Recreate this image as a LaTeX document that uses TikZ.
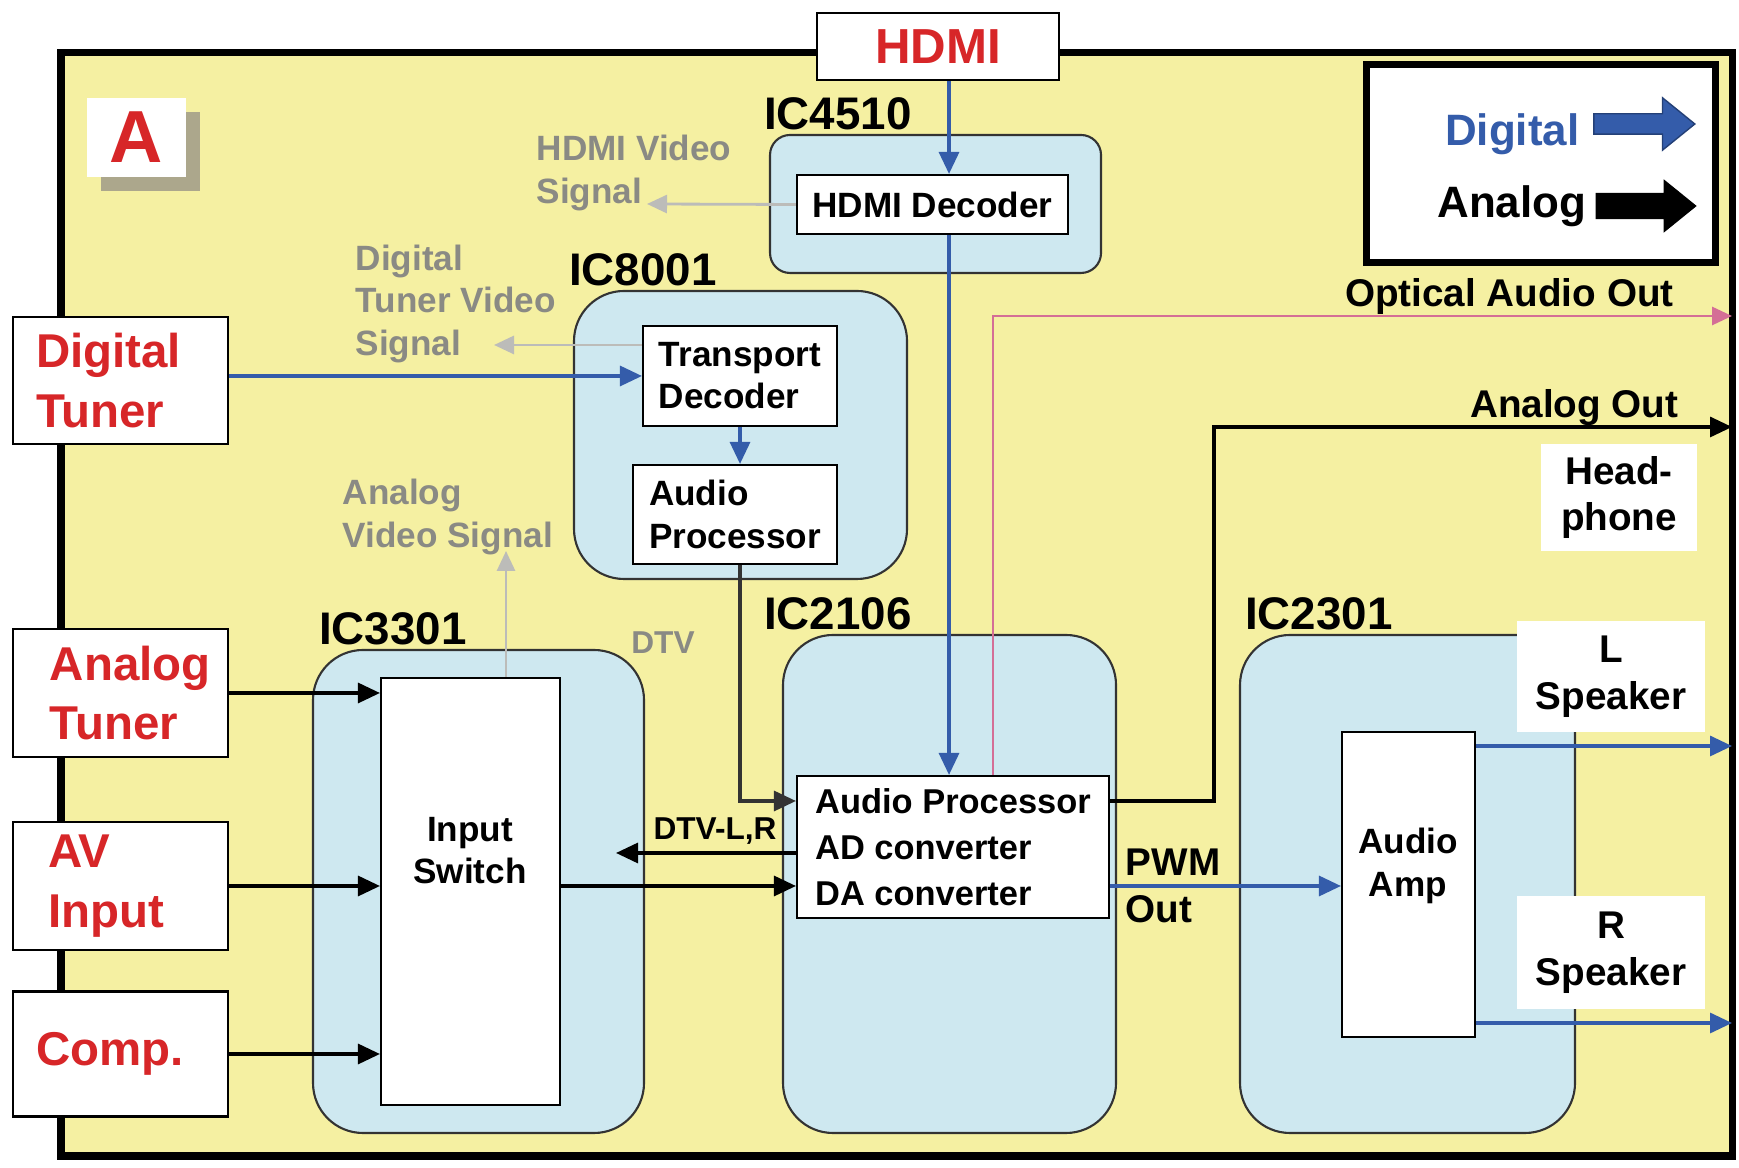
\documentclass[tikz,border=0pt]{standalone}
\usepackage{fontspec}
\setmainfont{Liberation Sans}
\usetikzlibrary{arrows.meta,positioning,shapes.arrows,shadows}
\definecolor{boardcolor}{RGB}{245,240,162}
\definecolor{iccolor}{RGB}{206,232,240}
\definecolor{redtxt}{RGB}{215,38,40}
\definecolor{digcolor}{RGB}{52,92,170}
\definecolor{vidcolor}{RGB}{138,138,132}
\definecolor{vidline}{RGB}{188,188,185}
\definecolor{optcolor}{RGB}{212,110,150}
\definecolor{shadowcolor}{RGB}{172,167,140}
\tikzset{
  icbox/.style={draw=black!80, line width=0.6pt, fill=iccolor, rounded corners=0.5cm},
  blk/.style={draw=black, line width=0.6pt, fill=white, inner sep=0pt},
  inbox/.style={draw=black, line width=0.7pt, fill=white, text=redtxt, align=left,
    minimum width=2.15cm, text width=1.69cm, inner xsep=0pt,
    font=\bfseries\fontsize{13.5}{17}\selectfont},
  iclab/.style={inner sep=1pt, font=\bfseries\fontsize{13}{15}\selectfont},
  txt/.style={font=\bfseries\fontsize{10}{12}\selectfont, align=left},
  vidtxt/.style={txt, text=vidcolor, inner sep=0pt},
  outlab/.style={text=black, font=\bfseries\fontsize{11}{13}\selectfont, inner sep=0pt},
  spk/.style={fill=white, align=center, font=\bfseries\fontsize{11}{13.3}\selectfont},
  keytxt/.style={inner sep=0pt, font=\bfseries\fontsize{12.5}{14}\selectfont},
  dsig/.style={-{Triangle[length=2.2mm,width=2mm]}, line width=0.9pt, digcolor},
  asig/.style={-{Triangle[length=2.2mm,width=2mm]}, line width=0.9pt, black},
  vsig/.style={-{Triangle[length=2mm,width=1.8mm]}, line width=0.8pt, vidline},
  osig/.style={-{Triangle[length=2mm,width=1.8mm]}, line width=0.8pt, optcolor},
}

\begin{document}
\begin{tikzpicture}
    \useasboundingbox (0,0) rectangle (17.39,11.67);
    \node[draw=black, line width=2pt, fill=boardcolor, outer sep=0pt, inner sep=0pt,
      minimum width=16.71cm, minimum height=11.03cm] (board) at (8.965,5.625) {};
    \node[fill=white, minimum width=0.99cm, minimum height=0.79cm, text=redtxt,
      drop shadow={shadow xshift=0.14cm, shadow yshift=-0.14cm, fill=shadowcolor, opacity=1},
      font=\bfseries\fontsize{21}{21}\selectfont] (a) at (1.365,10.295) {A};
    \node[draw=black, line width=0.7pt, fill=white, minimum width=2.42cm,
      minimum height=0.67cm, text=redtxt, font=\bfseries\fontsize{14}{14}\selectfont]
      (hdmi) at (9.38,11.205) {HDMI};

    \node[icbox, rounded corners=0.2cm, minimum width=3.31cm, minimum height=1.38cm]
      (ic4510) at (9.355,9.63) {};
    \node[iclab, above right=0cm and -0.09cm of ic4510.north west] (l4510) {IC4510};
    \node[blk, txt, minimum width=2.71cm, minimum height=0.59cm] (dec) at (9.325,9.625)
      {HDMI Decoder};
    \node[vidtxt, anchor=west] (hvtxt) at (5.36,9.94) {HDMI Video\\Signal};
    \coordinate (hvs) at (6.47,9.63);
    \draw[vsig] (dec.west) -- (hvs);

    \node[icbox, minimum width=3.33cm, minimum height=2.88cm] (ic8001) at (7.405,7.32) {};
    \node[iclab, above right=0cm and -0.08cm of ic8001.north west] (l8001) {IC8001};
    \node[blk, txt, minimum width=1.94cm, minimum height=1.00cm] (td) at (7.40,7.91)
      {Transport\\Decoder};
    \node[blk, txt, minimum width=2.04cm, minimum height=0.99cm] (ap1) at (7.35,6.525)
      {Audio\\Processor};
    \draw[dsig] (td.south) -- (td.south |- ap1.north);

    \node[inbox, minimum height=1.27cm] (dt) at (1.205,7.865) {Digital\\Tuner};
    \draw[dsig] (dt.east |- td.west) -- (td.west);
    \node[vidtxt, anchor=west] (dtvtxt) at (3.55,8.63) {Digital\\Tuner Video\\Signal};
    \coordinate (dtvs) at (4.94,8.22);
    \draw[vsig] (td.west |- dtvs) -- (dtvs);

    \node[icbox, minimum width=3.31cm, minimum height=4.83cm] (ic3301) at (4.785,2.755) {};
    \node[iclab, above right=0cm and 0.03cm of ic3301.north west] (l3301) {IC3301};
    \node[blk, minimum width=1.79cm, minimum height=4.27cm] (isw) at (4.705,2.755) {};
    \node[txt, align=center] (iswt) at (4.70,3.16) {Input\\Switch};
    \node[vidtxt, anchor=west] (avtxt) at (3.42,6.50) {Analog\\Video Signal};
    \coordinate (avs) at (5.06,6.16);
    \draw[vsig] (isw.north -| avs) -- (avs);

    \node[inbox, minimum height=1.28cm, text width=1.41cm] (atu) at (1.205,4.74)
      {Analog\\Tuner};
    \node[inbox, minimum height=1.28cm, text width=1.45cm] (av) at (1.205,2.81)
      {AV\\Input};
    \node[inbox, minimum height=1.25cm] (comp) at (1.205,1.13) {Comp.};
    \draw[asig] (atu.east) -- (atu.east -| isw.west);
    \draw[asig] (av.east) -- (av.east -| isw.west);
    \draw[asig] (comp.east) -- (comp.east -| isw.west);
    \node[vidtxt, font=\bfseries\fontsize{9}{11}\selectfont] (dtv) at (6.63,5.24) {DTV};

    \node[icbox, minimum width=3.33cm, minimum height=4.98cm] (ic2106) at (9.495,2.83) {};
    \node[iclab, above right=0cm and -0.22cm of ic2106.north west] (l2106) {IC2106};
    \node[blk, txt, minimum width=3.12cm, minimum height=1.42cm,
      font=\bfseries\fontsize{9.8}{13.1}\selectfont] (ap2) at (9.53,3.20)
      {Audio Processor\\AD converter\\DA converter};
    \coordinate (hx) at (9.49,0);
    \draw[dsig] (hdmi.south -| hx) -- (dec.north -| hx);
    \draw[dsig] (dec.south -| hx) -- (ap2.north -| hx);
    \draw[asig, black!80] (ap1.south -| td.south) |- ([yshift=0.46cm]ap2.west);
    \coordinate (dtvl) at (6.16,3.14);
    \draw[asig] (ap2.west |- dtvl) -- (dtvl);
    \node[txt, font=\bfseries\fontsize{9}{11}\selectfont] (ldtv) at (7.15,3.36) {DTV-L,R};
    \draw[asig] (isw.east |- av.east) -- (ap2.west |- av.east);

    \coordinate (opt) at (9.93,8.51);
    \draw[osig] (ap2.north -| opt) |- (board.east |- opt)
      node[outlab, anchor=south east, pos=1, xshift=-0.57cm] (lopt) {Optical Audio Out};
    \coordinate (aout) at (12.14,7.40);
    \draw[asig] ([yshift=0.46cm]ap2.east) -| (aout) -- (board.east |- aout)
      node[outlab, anchor=south east, pos=1, xshift=-0.52cm] (laout) {Analog Out};
    \node[spk, minimum width=1.56cm, minimum height=1.07cm] (hp) at (16.19,6.695)
      {Head-\\phone};

    \node[icbox, minimum width=3.35cm, minimum height=4.98cm] (ic2301) at (14.075,2.83) {};
    \node[iclab, above right=0cm and 0.02cm of ic2301.north west] (l2301) {IC2301};
    \node[blk, minimum width=1.33cm, minimum height=3.05cm] (amp) at (14.085,2.825) {};
    \node[txt, align=center] (ampt) at (14.08,3.01) {Audio\\Amp};
    \draw[dsig] (ap2.east |- av.east) -- (amp.west |- av.east);
    \node[outlab, anchor=west, align=left, font=\bfseries\fontsize{11}{13.4}\selectfont]
      (pwm) at (11.25,2.81) {PWM\\Out};
    \node[spk, minimum width=1.88cm, minimum height=1.11cm] (ls) at (16.11,4.905)
      {L\\Speaker};
    \node[spk, minimum width=1.88cm, minimum height=1.13cm] (rs) at (16.11,2.145)
      {R\\Speaker};
    \coordinate (lo) at (0,4.21);
    \coordinate (ro) at (0,1.44);
    \draw[dsig] (amp.east |- lo) -- (board.east |- lo);
    \draw[dsig] (amp.east |- ro) -- (board.east |- ro);

    \node[draw=black, line width=2pt, fill=white, minimum width=3.49cm,
      minimum height=1.98cm] (key) at (15.405,10.03) {};
    \node[single arrow, fill=digcolor, draw=digcolor!70!black, line width=0.4pt,
      inner xsep=0pt, inner ysep=0.095cm, minimum height=1.01cm,
      single arrow head extend=0.16cm, single arrow tip angle=78] (kdig) at (16.38,10.43) {};
    \node[single arrow, fill=black, inner xsep=0pt, inner ysep=0.125cm,
      minimum height=1.01cm, single arrow head extend=0.135cm,
      single arrow tip angle=78] (kana) at (16.38,9.61) {};
    \node[keytxt, text=digcolor, left=0.13cm of kdig, yshift=-0.1cm] (tdig) {Digital};
    \node[keytxt, left=0.08cm of kana] (tana) {Analog};
\end{tikzpicture}
\end{document}
